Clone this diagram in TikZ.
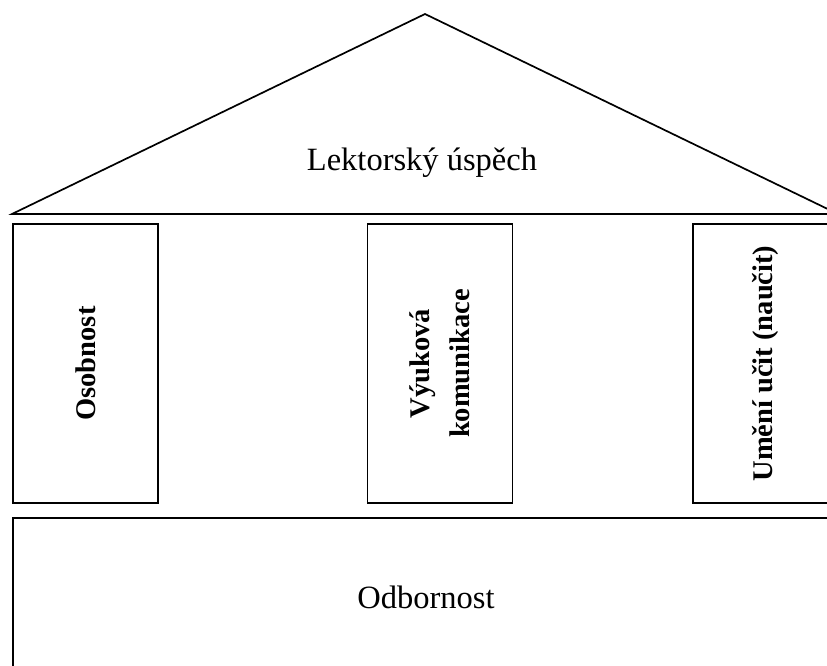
\documentclass[tikz,border=0pt]{standalone}
\usepackage{fontspec}
\setmainfont{Liberation Serif}
\tikzset{
	pillar/.style   = {shape=rectangle, draw, rotate=90, align=center,
		minimum width=279pt, minimum height=145pt, inner sep=0pt,
		font=\fontsize{28.5}{40}\selectfont\bfseries},
	label/.style    = {font=\fontsize{32.5}{38}\selectfont},
	outline/.style  = {line width=1.7pt}
}
\begin{document}
\begin{tikzpicture}[x=1pt, y=-1pt, outline]
	\useasboundingbox (0,0) rectangle (827,666);
	\clip (0,0) rectangle (827,666);
	% roof
	\coordinate (eaveL) at (12,214);
	\coordinate (apex) at (425,14);
	\coordinate (eaveR) at (838,214);
	\draw (eaveL) -- (apex) -- (eaveR) -- cycle;
	\node [label] (roof) at (422,163) {Lektorský úspěch};
	% the three pillars
	\node [pillar] (osobnost) at (85.5,363.5) {Osobnost};
	\node [pillar] (vyuka) at (440,363.5) {Výuková\\komunikace};
	\node [pillar] (umeni) at (765.5,363.5) {Umění učit (naučit)};
	% base
	\draw (13,518) rectangle (850,680);
	\node [label] (odbornost) at (426,597) {Odbornost};
\end{tikzpicture}
\end{document}
